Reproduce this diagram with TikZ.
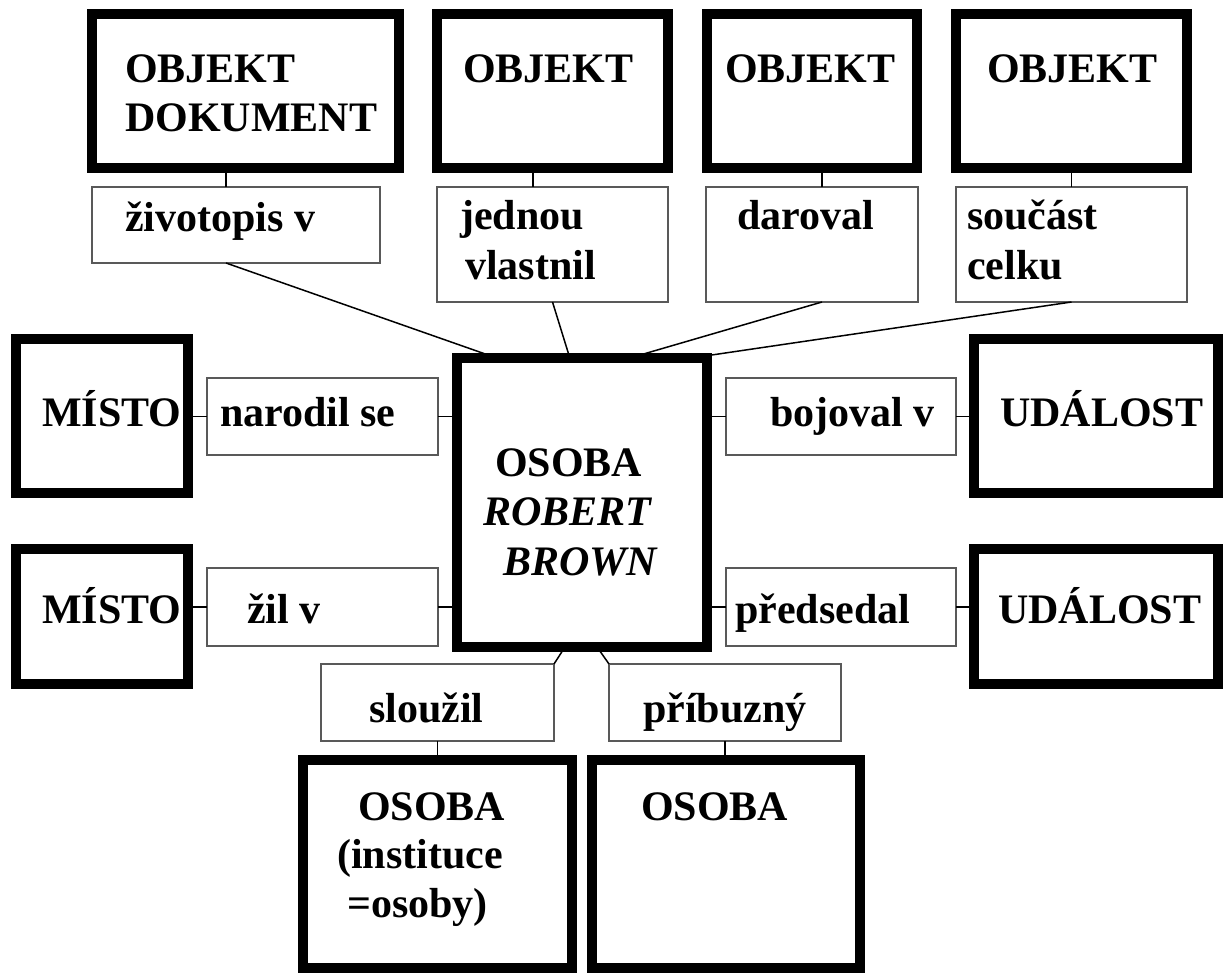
\documentclass[tikz,border=0pt]{standalone}
\usepackage{fontspec}
\setmainfont{Liberation Serif}
\usetikzlibrary{calc}
\tikzset{
  bigbox/.style={draw=black, line width=10pt, rectangle, inner sep=0pt, outer sep=0pt},
  relbox/.style={draw=black!65, line width=1.2pt, rectangle, inner sep=0pt, outer sep=0pt},
  conn/.style={draw=black, line width=1.5pt},
  txt/.style={anchor=base west, inner sep=0pt, font=\fontsize{42}{48}\selectfont\bfseries},
  itxt/.style={anchor=base west, inner sep=0pt, font=\fontsize{42}{48}\selectfont\bfseries\itshape}
}
\begin{document}
\begin{tikzpicture}[x=1pt, y=-1pt]
\useasboundingbox (0,0) rectangle (1224,973);

% big boxes
\node[bigbox, minimum width=307pt, minimum height=154pt] (objA) at (245.5,91) {};
\node[bigbox, minimum width=231pt, minimum height=154pt] (objB) at (552.5,91) {};
\node[bigbox, minimum width=210pt, minimum height=154pt] (objC) at (812,91) {};
\node[bigbox, minimum width=231pt, minimum height=154pt] (objD) at (1071.5,91) {};
\node[bigbox, minimum width=172.5pt, minimum height=153.5pt] (misto1) at (101.75,416.25) {};
\node[bigbox, minimum width=172.5pt, minimum height=135pt] (misto2) at (101.75,616.5) {};
\node[bigbox, minimum width=244pt, minimum height=153.5pt] (udal1) at (1096,416.25) {};
\node[bigbox, minimum width=244pt, minimum height=135pt] (udal2) at (1096,616.5) {};
\node[bigbox, minimum width=250.5pt, minimum height=288.5pt] (center) at (581.75,502.75) {};
\node[bigbox, minimum width=269.5pt, minimum height=208pt] (osobaL) at (437.25,864) {};
\node[bigbox, minimum width=268pt, minimum height=208pt] (osobaR) at (725.5,864) {};

% relation boxes
\node[relbox, minimum width=288pt, minimum height=76pt] (lZiv) at (236,225) {};
\node[relbox, minimum width=231pt, minimum height=115pt] (lJed) at (552.5,244.5) {};
\node[relbox, minimum width=212pt, minimum height=115pt] (lDar) at (812,244.5) {};
\node[relbox, minimum width=231pt, minimum height=115pt] (lSou) at (1071.5,244.5) {};
\node[relbox, minimum width=231pt, minimum height=77pt] (lNar) at (322.5,416.5) {};
\node[relbox, minimum width=231pt, minimum height=78pt] (lZil) at (322.5,607) {};
\node[relbox, minimum width=230pt, minimum height=77pt] (lBoj) at (841,416.5) {};
\node[relbox, minimum width=230pt, minimum height=78pt] (lPre) at (841,607) {};
\node[relbox, minimum width=233pt, minimum height=77pt] (lSlo) at (437.5,702.5) {};
\node[relbox, minimum width=232pt, minimum height=77pt] (lPri) at (725,702.5) {};

% helper coordinates for connector x positions
\coordinate (cA) at (226,0);
\coordinate (cB) at (533,0);
\coordinate (cC) at (822,0);

% connectors top
\draw[conn] (objA.south -| cA) -- (lZiv.north -| cA);
\draw[conn] (objB.south -| cB) -- (lJed.north -| cB);
\draw[conn] (objC.south -| cC) -- (lDar.north -| cC);
\draw[conn] (objD.south) -- (lSou.north);
\draw[conn] (lZiv.south -| cA) -- ($(center.north west)!0.166!(center.north east)$);
\draw[conn] (lJed.south) -- ($(center.north west)!0.453!(center.north east)$);
\draw[conn] (lDar.south -| cC) -- ($(center.north west)!0.685!(center.north east)$);
\draw[conn] (lSou.south) -- ($(center.north west)!0.924!(center.north east)$);

% connectors sides
\draw[conn] (lNar.west -| misto1.east) -- (lNar.west);
\draw[conn] (lNar.east) -- (lNar.east -| center.west);
\draw[conn] (lZil.west -| misto2.east) -- (lZil.west);
\draw[conn] (lZil.east) -- (lZil.east -| center.west);
\draw[conn] (lBoj.west -| center.east) -- (lBoj.west);
\draw[conn] (lBoj.east) -- (lBoj.east -| udal1.west);
\draw[conn] (lPre.west -| center.east) -- (lPre.west);
\draw[conn] (lPre.east) -- (lPre.east -| udal2.west);

% connectors bottom
\draw[conn] ($(center.south west)!0.433!(center.south east)$) -- (lSlo.north east);
\draw[conn] ($(center.south west)!0.561!(center.south east)$) -- (lPri.north west);
\draw[conn] (lSlo.south) -- (lSlo.south |- osobaL.north);
\draw[conn] (lPri.south) -- (lPri.south |- osobaR.north);

% texts
\node[txt] (tA1) at (125,83) {OBJEKT};
\node[txt] (tA2) at (125,132) {DOKUMENT};
\node[txt] (tB) at (463,83) {OBJEKT};
\node[txt] (tC) at (725,83) {OBJEKT};
\node[txt] (tD) at (987,83) {OBJEKT};
\node[txt] (tZiv) at (125,232) {životopis v};
\node[txt] (tJed1) at (460,230) {jednou};
\node[txt] (tJed2) at (465,280) {vlastnil};
\node[txt] (tDar) at (737,230) {daroval};
\node[txt] (tSou1) at (967,230) {součást};
\node[txt] (tSou2) at (967,280) {celku};
\node[txt] (tM1) at (42,427) {MÍSTO};
\node[txt] (tM2) at (42,623) {MÍSTO};
\node[txt] (tNar) at (220,427) {narodil se};
\node[txt] (tZil) at (247,623) {žil v};
\node[txt] (tBoj) at (770,427) {bojoval v};
\node[txt] (tPre) at (735,623) {předsedal};
\node[txt] (tU1) at (1000,427) {UDÁLOST};
\node[txt] (tU2) at (998,623) {UDÁLOST};
\node[txt] (tC1) at (495,477) {OSOBA};
\node[itxt] (tC2) at (483,525) {ROBERT};
\node[itxt] (tC3) at (503,575) {BROWN};
\node[txt] (tSlo) at (369,722) {sloužil};
\node[txt] (tPri) at (643,722) {příbuzný};
\node[txt] (tL1) at (358,820) {OSOBA};
\node[txt] (tL2) at (337,868) {(instituce};
\node[txt] (tL3) at (347,917) {=osoby)};
\node[txt] (tR1) at (641,820) {OSOBA};
\end{tikzpicture}
\end{document}
